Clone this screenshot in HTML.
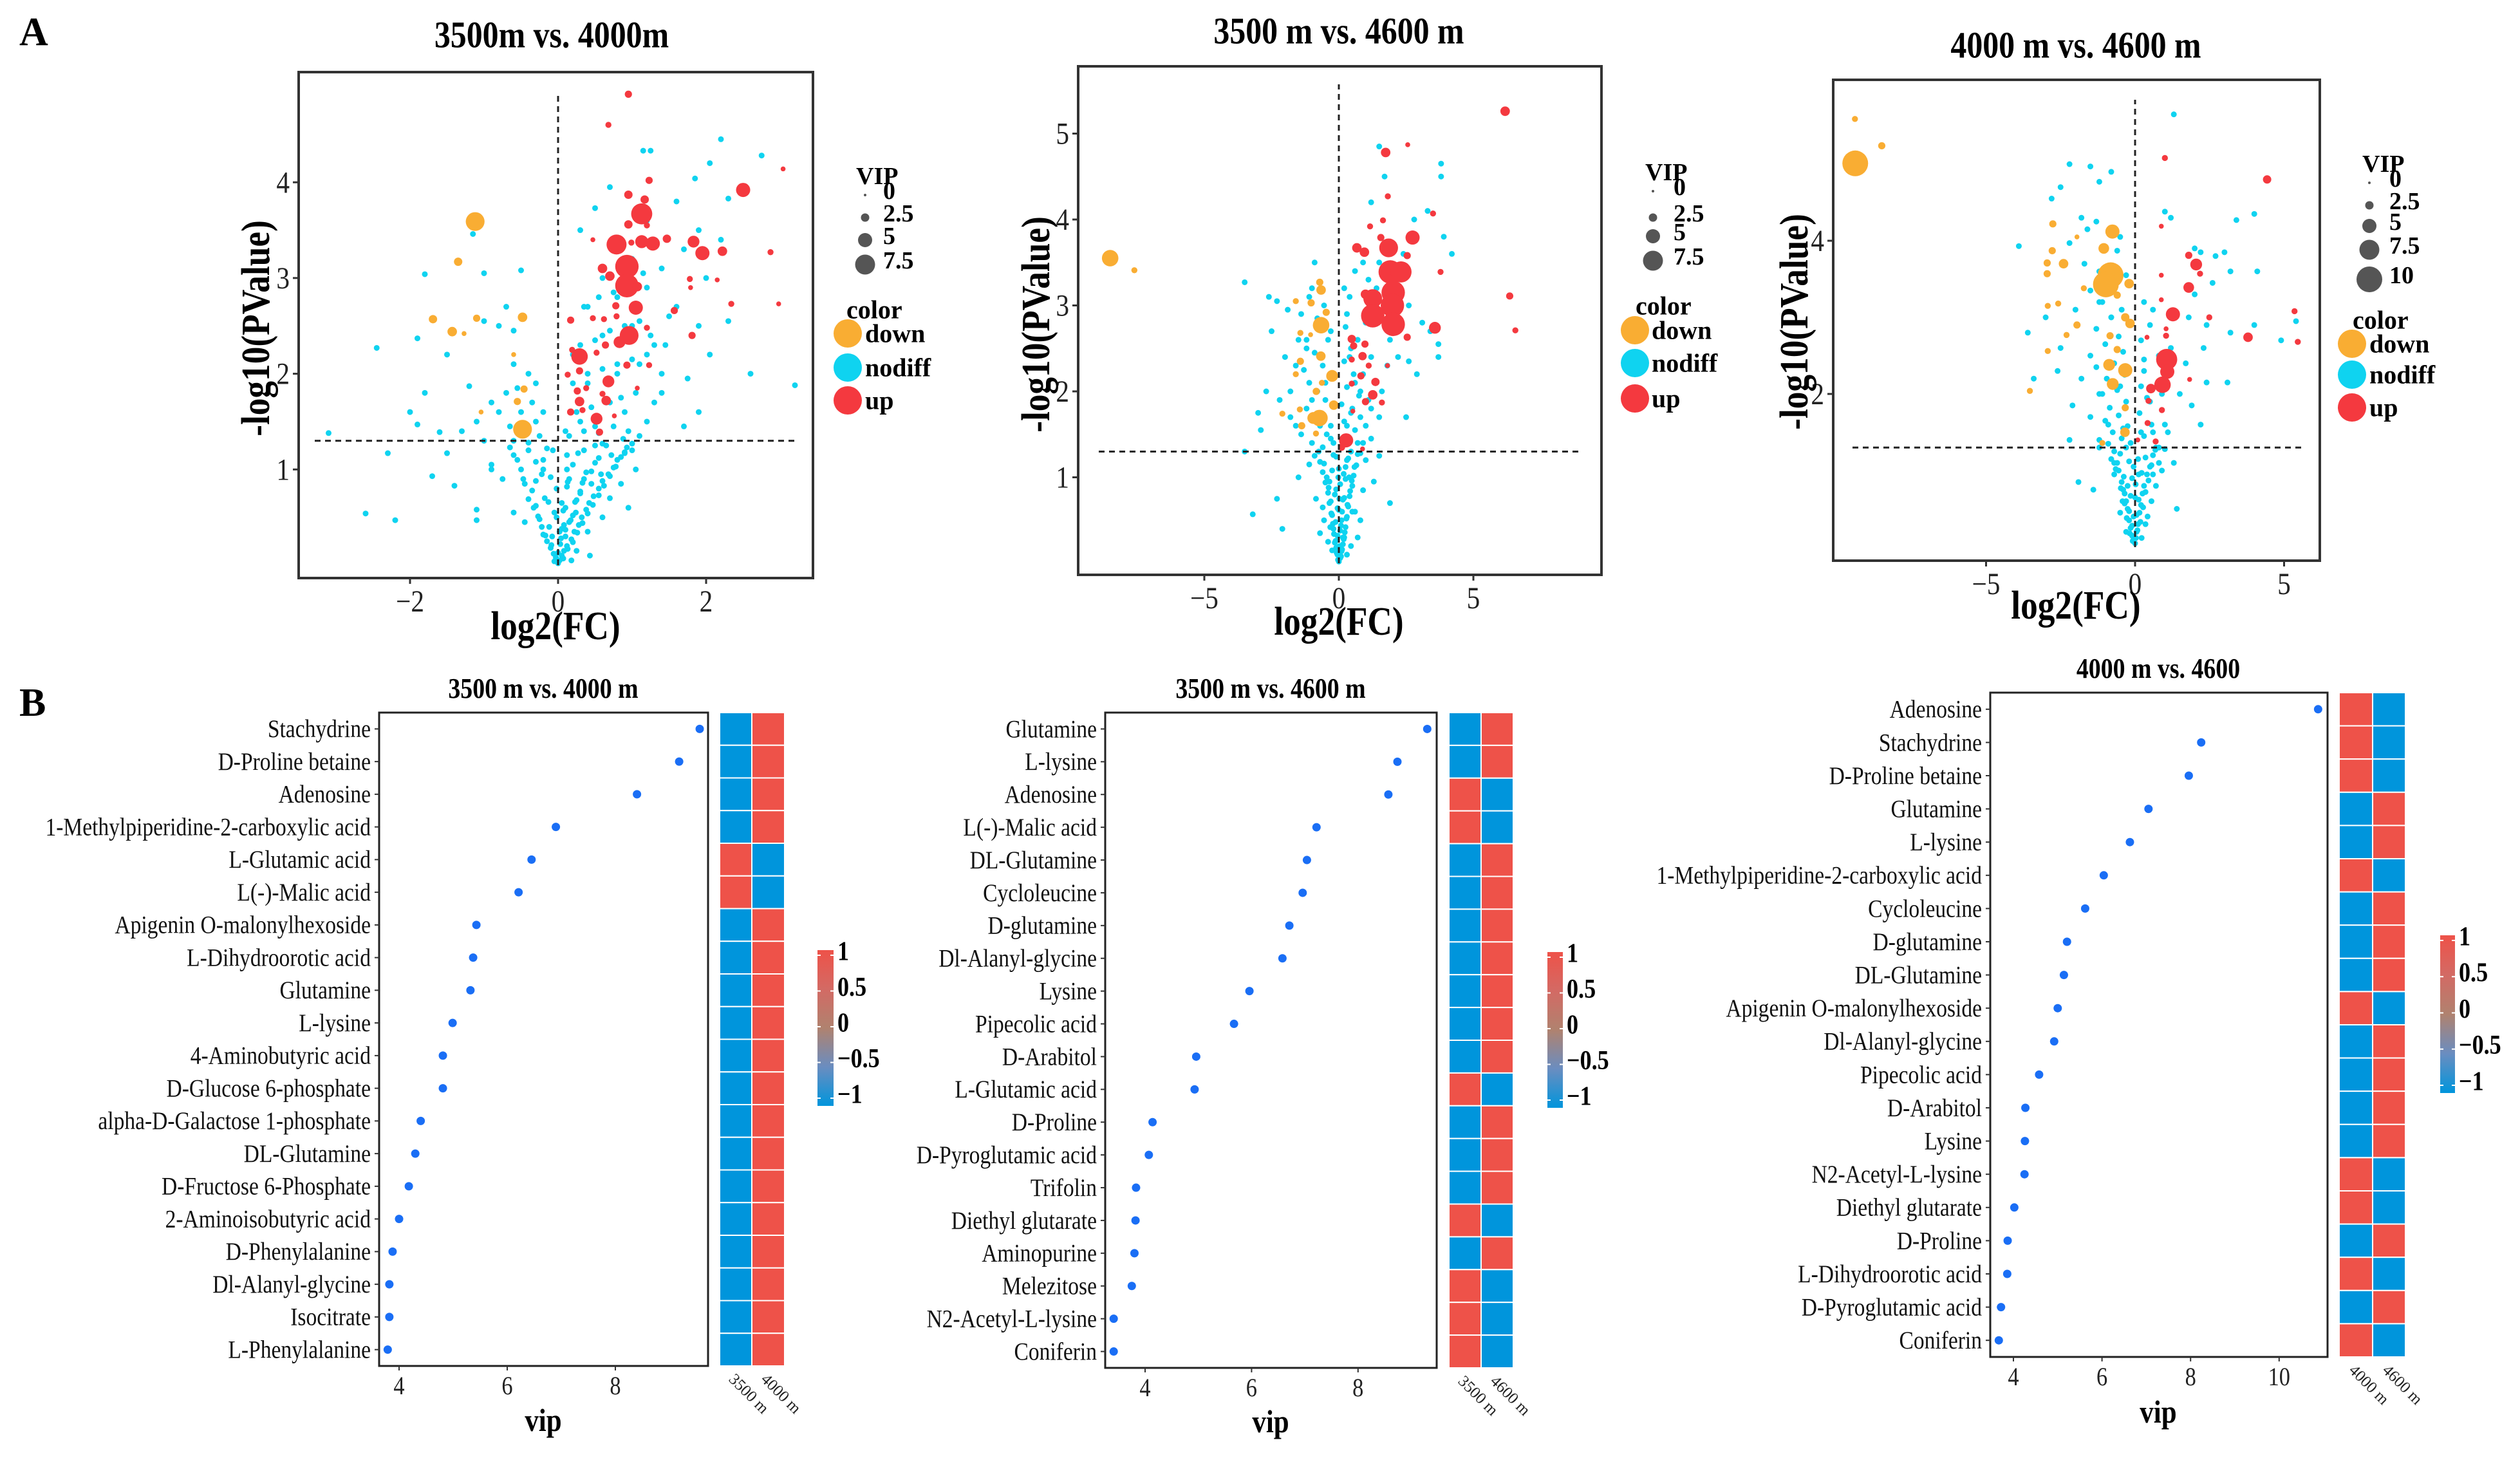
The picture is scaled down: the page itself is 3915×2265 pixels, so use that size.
<!DOCTYPE html>
<html><head><meta charset="utf-8">
<style>
html,body{margin:0;padding:0;background:#fff;}
svg{display:block;}
text{font-family:"Liberation Serif",serif;}
</style></head>
<body>
<svg id="fig" width="3915" height="2265" viewBox="0 0 3915 2265" xmlns="http://www.w3.org/2000/svg">
<rect x="0" y="0" width="3915" height="2265" fill="#fff"/>
<text x="30" y="70" font-family="Liberation Sans, sans-serif" font-weight="bold" font-size="62">A</text>
<text x="30" y="1112" font-family="Liberation Sans, sans-serif" font-weight="bold" font-size="62">B</text>
</svg>
<script>
// ===== Volcano A1 data (3500m vs 4000m) =====
const a1DownX=[-1.12,-1.35,-1.69,-1.1,-1.43,-1.27,-0.48,-0.6,-0.46,-0.55,-1.04,-0.48];
const a1DownY=[3.59,3.17,2.57,2.58,2.44,2.42,2.59,2.2,1.84,1.71,1.6,1.42];
const a1DownV=[7,2.5,2.5,2,3,1,3,1,2,2,1,7];
const a1UpX=[0.95,0.68,3.04,2.5,1.23,0.95,1.17,1.13,0.95,1.2,0.79,1.13,1.28,1.47,0.47,0.99,1.83,1.95,2.22,2.87,0.93,0.93,1.07,0.6,0.7,1.78,2.15,1.79,2.34,2.98,1.05,0.78,1.57,0.17,0.47,0.62,0.79,0.96,0.83,0.64,1.2,1.81,0.29,0.19,0.52,0.93,1.23,0.29,0.13,0.68,0.26,0.38,1.07,0.6,0.29,0.65,0.17,0.33,0.52,0.76,0.56];
const a1UpY=[4.92,4.6,4.14,3.92,4.02,3.87,3.82,3.67,3.56,3.55,3.35,3.38,3.36,3.41,3.4,3.37,3.38,3.26,3.28,3.27,3.12,2.92,2.91,3.1,3.02,2.99,2.98,2.9,2.73,2.73,2.69,2.71,2.66,2.56,2.58,2.57,2.6,2.4,2.33,2.3,2.48,2.4,2.18,2.25,2.22,2.09,2.09,2.03,1.99,1.92,1.82,1.85,1.85,1.79,1.71,1.72,1.6,1.62,1.53,1.56,1.39];
const a1UpV=[2,1.5,1,5,2,2.5,2.5,8,2.5,1.5,7.5,4.5,5,2.5,1,1.5,4,5,3,1.5,9,9,3,3,3,1.5,1,1,1.5,1,5,2,2,2,1.5,1.5,1.5,7,4,2,1.5,2,6,1.5,1.5,2,1.5,2,1.5,4,2,1.5,1,1.5,3,3,2,1.5,4,1,2];
const a1NdX=[0,0.02,-0.03,0.05,-0.06,0.08,-0.1,0.12,0.03,-0.15,0.18,0.1,-0.2,0.22,0.05,-0.12,0.28,0.15,-0.25,0.32,0.2,-0.05,0.38,0.1,-0.3,0.42,0.25,-0.18,0.48,0.3,-0.35,0.55,0.12,-0.45,0.6,0.35,-0.1,0.68,0.45,-0.5,0.75,0.2,-0.3,0.8,0.55,-0.6,0.9,0.35,-0.15,0.65,1.0,-0.4,0.05,0.15,-0.22,0.4,0.25,-0.08,0.6,0.7,-0.6,0.85,-0.75,0.95,-0.9,1.05,0.5,0.12,-0.45,0.18,
0.1,0.3,0.5,0.7,0.9,1.2,1.4,0.4,0.8,1.1,0.2,0.6,1.0,1.3,1.5,0.4,0.8,1.2,1.6,1.9,0.6,1.0,1.4,1.7,2.0,0.3,1.2,1.6,1.9,2.2,1.15,1.25,1.85,2.05,2.2,2.75,2.3,0.7,0.5,2.3,2.05,1.75,1.9,3.2,1.7,2.6,
-0.3,-0.5,-0.7,-0.4,-0.6,-0.9,-1.1,-1.3,-1.6,-1.9,-2.0,-1.8,-2.45,-3.1,-2.3,-2.6,-2.2,-1.8,-1.0,-1.15,-0.5,-1.5,-1.7,-1.4,-1.1,-1.1,-0.9,-1.2,-0.8,-0.7,-0.6,-1.9,-1.5,-1.0,-0.3,-0.2,0.9];
const a1NdY=[0.02,0.05,0.08,0.1,0.12,0.15,0.18,0.2,0.22,0.25,0.27,0.3,0.32,0.35,0.38,0.4,0.42,0.45,0.48,0.5,0.52,0.55,0.58,0.6,0.62,0.65,0.68,0.7,0.72,0.75,0.78,0.8,0.82,0.85,0.88,0.9,0.92,0.95,0.98,1.0,1.02,1.05,1.08,1.1,1.12,1.15,1.18,1.2,1.22,1.25,1.27,1.28,0.65,0.9,0.95,0.35,0.15,0.3,0.5,0.7,0.55,0.85,0.9,0.6,1.05,1.0,1.25,1.15,0.45,0.05,
1.4,1.5,1.45,1.7,1.6,1.5,1.8,1.9,2.0,2.1,2.2,2.4,2.5,2.3,2.6,2.7,2.8,2.9,2.7,2.5,3.0,3.2,3.1,3.3,3.0,3.5,3.6,3.8,3.5,3.4,4.33,4.33,4.04,4.2,4.45,4.28,3.83,3.95,3.73,2.55,2.2,1.95,1.6,1.88,1.45,2.0,
1.5,1.6,1.8,2.0,2.1,1.7,1.5,1.4,1.39,1.47,1.6,1.8,2.27,1.38,1.17,0.54,0.47,3.04,3.05,3.46,3.08,1.17,0.93,0.83,0.58,0.47,1.0,1.87,2.5,2.7,2.45,2.37,2.2,2.55,1.9,1.6,1.17];
const a1NdPairs=[[-0.05,0.04],[0.07,0.07],[0,0.13],[0.13,0.17],[-0.09,0.21],[0.2,0.24],[0.04,0.28],[-0.17,0.31],[0.26,0.34],[0.1,0.37],[-0.22,0.4],[0.33,0.44],[0.17,0.47],[-0.27,0.51],[0.4,0.54],[0.07,0.57],[-0.33,0.6],[0.47,0.63],[0.23,0.66],[-0.4,0.69],[0.55,0.73],[0.3,0.77],[-0.02,0.8],[0.62,0.83],[0.13,0.87],[-0.47,0.9],[0.7,0.93],[0.38,0.97],[-0.2,1.0],[0.78,1.03],[0.5,1.07],[-0.55,1.1],[0.85,1.13],[0.27,1.17],[-0.07,1.2],[0.93,1.23],[0.6,1.27],[-0.65,1.23],[1.0,1.2],[0.43,0.1],[0.15,1.35],[0.35,1.4],[0.55,1.38],[0.75,1.45],[0.95,1.4],[0.25,1.6],[0.45,1.65],[0.65,1.7],[0.85,1.75],[1.05,1.8],[0.2,1.9],[0.4,2.0],[0.6,2.05],[0.8,2.1],[1.0,2.15],[1.2,2.2],[0.3,2.3],[0.5,2.35],[0.7,2.45],[0.9,2.5],[1.1,2.55],[0.35,2.7],[0.55,2.8],[0.75,2.85],[0.95,2.95],[1.15,3.05],[-0.25,1.35],[-0.45,1.4],[-0.65,1.45],[-0.35,1.7],[-0.55,1.85],[-0.8,1.6],[-1.0,1.3],[-0.2,1.1],[-0.4,1.2],[-0.6,1.3],[0.08,0.42],[-0.13,0.66],[0.33,0.86],[0.58,0.95],[0.12,1.0],[-0.3,0.88],[0.72,1.15],[0.88,1.32],[0.24,0.55],[0.02,0.35],[-0.02,0.5],[0.45,0.85],[1.3,1.7],[1.4,2.0],[1.25,2.4],[1.45,2.3],[1.1,1.35]];

// ===== Volcano A2 data (3500 m vs 4600 m) =====
const a2DownX=[-8.5,-7.6,-0.71,-0.66,-0.47,-1.03,-1.6,-0.66,-1.43,-1.05,-0.67,-1.43,-1.6,-0.25,-0.63,-0.84,-0.19,-1.45,-0.72,-0.95,-2.1,-1.38,-0.85];
const a2DownY=[3.55,3.41,3.27,3.18,2.92,3.03,3.05,2.77,2.68,2.66,2.41,2.35,2.2,2.18,2.1,2.0,1.84,1.79,1.69,1.69,1.74,1.6,1.51];
const a2DownV=[6,1.5,2,3,2,2,1.5,6,1.5,1,3,2,1.5,4,1.5,2,3,1.5,6,4,1.5,2,1.5];
const a2UpX=[6.18,1.74,2.56,1.82,3.5,1.16,1.64,2.74,1.56,1.85,0.67,0.95,2.54,1.91,2.31,3.78,2.02,1.26,0.99,6.35,1.99,2.02,1.26,3.57,6.56,2.54,0.48,0.97,0.55,0.88,0.48,1.11,1.81,0.82,1.36,0.48,1.26,0.99,1.6,0.27,0.1,0.52,0.88];
const a2UpY=[5.26,4.78,4.87,4.27,4.07,3.92,3.99,3.79,3.79,3.67,3.67,3.62,3.58,3.39,3.39,3.39,3.15,3.08,3.13,3.11,3.0,2.78,2.88,2.74,2.71,2.63,2.61,2.55,2.53,2.41,2.37,2.3,2.3,2.18,2.11,2.09,1.96,1.88,1.87,1.43,1.35,1.77,1.33];
const a2UpV=[3,3,1,1.5,1.5,1.5,1.5,5,2,7,3,3,2,9,8,1.5,9,7,3,2,9,9,9,4,1.5,2,2.5,2,2,2.5,1.5,1.5,1,2,2.5,1.5,3,2,1.5,5,2,1,1];
const a2NdX=[0,0.05,-0.05,0.1,-0.1,0.15,-0.12,0.2,-0.18,0.05,0.25,-0.22,0.1,0.3,-0.28,0,0.35,-0.35,0.15,0.4,-0.4,-0.1,0.5,-0.5,0.25,0.55,-0.6,0,0.65,-0.7,0.35,-0.2,0.8,-0.9,1.0,-1.1,0.6,-0.55,0.7,-0.7,-3.2,-2.1,-2.3,1.9,1.3,-1.5,1.5,-0.25,0.3,-0.4,0.45,0.8,-0.85,0.9,
-3.5,-2.6,-2.3,-1.9,-2.5,-1.5,-2.0,-1.6,-1.2,-2.7,-2.2,-1.8,-3.0,-2.9,-1.0,-0.5,-0.4,-1.0,-0.9,-0.3,-0.3,-0.6,-3.5,0.3,0.5,0.6,0.4,0.8,1.0,1.2,1.5,1.6,1.8,2.2,2.6,2.9,3.7,3.7,3.1,2.6,1.8,1.5,2.4,2.8,3.3,3.8,3.8,3.9,4.2,1.5,1.7,1.2,1.4,1.3,0.3,1.9,2.5,3.4,0.7,-1.4,0.2];
const a2NdY=[0.02,0.06,0.1,0.14,0.18,0.22,0.26,0.3,0.34,0.38,0.42,0.46,0.5,0.54,0.58,0.62,0.66,0.7,0.74,0.78,0.82,0.86,0.9,0.94,0.98,1.02,1.06,1.1,1.14,1.18,1.22,1.26,1.28,1.25,1.2,1.15,0.6,0.5,0.3,0.35,0.57,0.4,0.75,0.7,0.95,1.0,1.25,0.15,0.1,0.25,0.2,0.5,0.75,0.85,
3.27,3.1,3.05,2.95,2.7,2.6,2.4,2.3,2.5,2.0,1.9,1.7,1.75,1.55,1.9,2.1,2.6,3.2,3.5,1.6,1.45,1.35,1.3,1.6,1.8,2.1,2.4,2.0,1.6,1.8,1.7,2.0,2.3,2.4,2.35,2.2,2.55,2.4,2.8,3.0,3.3,3.5,3.6,4.0,4.1,4.65,4.5,3.8,3.6,4.85,4.5,4.2,3.2,2.9,2.9,2.6,1.7,2.7,1.4,1.5,3.2];
const a2NdPairs=[[-0.03,0.04],[0.08,0.08],[-0.08,0.12],[0.12,0.16],[0.02,0.2],[-0.15,0.24],[0.18,0.28],[-0.05,0.32],[0.22,0.36],[-0.2,0.4],[0.08,0.44],[-0.12,0.48],[0.28,0.52],[-0.25,0.56],[0.12,0.6],[-0.05,0.64],[0.32,0.68],[-0.3,0.72],[0.2,0.76],[-0.15,0.8],[0.42,0.84],[-0.38,0.88],[0.05,0.92],[0.48,0.96],[-0.45,1.0],[0.18,1.04],[-0.25,1.08],[0.58,1.12],[-0.55,1.16],[0.3,1.2],[-0.1,1.24],[0.7,1.27],[-0.75,1.3],[0.45,1.3],[0.1,1.35],[-0.2,1.4],[0.35,1.45],[-0.45,1.5],[0.6,1.55],[-0.7,1.6],[0.2,1.65],[-0.95,1.7],[0.45,1.75],[-1.2,1.8],[0.1,1.85],[-0.5,1.9],[0.75,1.95],[-0.8,2.0],[0.3,2.05],[-1.1,2.1],[-0.3,2.15],[0.55,2.2],[-1.3,2.25],[-0.6,2.3],[0.2,2.35],[-0.9,2.45],[0.45,2.5],[-1.2,2.6],[-0.3,2.7],[0.25,2.75],[-0.8,2.85],[-1.4,2.9],[-0.55,3.0],[0.4,3.1],[-1.1,3.1],[0.6,3.4],[0.9,3.5],[1.1,3.3],[1.0,2.8],[0.7,2.6],[1.2,2.4],[0.9,2.2],[1.1,1.9],[0.8,1.7],[0.9,1.4],[1.2,1.45],[-1.0,1.4],[-1.6,1.6],[-1.8,2.0],[-0.35,0.95],[0.38,1.0],[0.15,0.3],[-0.32,0.42],[0.5,0.6],[-0.6,0.65],[0.02,0.75],[-0.02,1.0],[0.25,1.12]];

// ===== Volcano A3 data (4000 m vs 4600 m) =====
const a3DownX=[-9.39,-9.4,-8.5,-0.76,-2.76,-1.95,-1.05,-2.78,-2.95,-2.4,-2.95,-0.82,-0.98,-0.2,-1.72,-2.93,-2.58,-0.6,-0.33,-0.17,-1.95,-2.3,-0.84,-2.93,-0.6,-0.87,-0.33,-0.75,-3.53,-0.33,-0.34,-1.1];
const a3DownY=[5.01,5.59,5.24,4.12,4.22,4.05,3.9,3.87,3.71,3.7,3.57,3.55,3.43,3.44,3.38,3.15,3.18,3.29,3.0,2.92,2.9,2.77,2.76,2.56,2.58,2.38,2.31,2.13,2.04,1.82,1.5,1.36];
const a3DownV=[10,1.5,2,5,2,1,3.5,2,2,3,2,10,10,3,1.5,1.5,1.5,2,2.5,3,2,1.5,2,1.5,2,4,5,4,1.5,2,3,1.5];
const a3UpX=[1.0,4.43,0.88,1.8,2.05,2.18,0.88,1.8,0.88,1.27,2.49,5.35,5.46,3.79,1.04,0.4,1.04,1.06,1.08,0.92,0.53,1.83,0.45,0.9,0.42,0.09,0.69];
const a3UpY=[5.08,4.8,4.19,3.81,3.69,3.57,3.55,3.39,3.23,3.04,3.0,3.08,2.68,2.74,2.85,2.74,2.76,2.45,2.29,2.12,2.07,2.19,1.91,1.79,1.62,1.4,1.38];
const a3UpV=[1.5,2.5,1,2,4,1.5,1,3.5,1,5,1.5,1.5,1.5,3,1,1,1.5,8,5,6,3,1,1.5,1.5,1.5,1,1.5];
const a3NdX=[0,-0.05,-0.1,0.05,-0.15,0.1,-0.2,-0.05,0.15,-0.25,0.2,-0.3,0,0.25,-0.4,0.3,-0.45,-0.1,0.4,-0.55,0.5,-0.6,0.1,0.6,-0.7,0.8,-0.9,-0.3,1.0,0.55,-0.5,0.7,-0.7,0.9,-0.8,1.4,1.3,-1.9,-1.4,-0.3,0.35,-0.35,
-2.2,-1.5,-1.2,-0.8,-1.3,-2.8,-1.8,-2.5,-3.9,-2.2,-1.6,-0.5,-0.6,-1.7,-1.5,-3.0,-2.0,-1.2,-0.8,-3.6,-2.5,-1.5,-0.9,-3.4,-2.6,-1.8,-1.2,-0.5,-2.1,-1.5,-0.9,-0.4,-2.2,-1.2,1.3,1.0,1.2,2.0,2.2,3.0,3.4,4.0,4.1,2.7,3.2,2.6,2.0,1.8,2.4,3.2,4.0,4.9,5.4,2.3,1.7,2.4,3.1,1.5,1.9,2.2,0.8,0.5,0.5,0.3,0.6,0.2,1.1,0.6];
const a3NdY=[0.05,0.1,0.15,0.2,0.25,0.3,0.35,0.4,0.45,0.5,0.55,0.6,0.65,0.7,0.75,0.8,0.85,0.9,0.95,1.0,1.05,1.1,1.15,1.2,1.25,1.3,1.35,1.3,1.28,0.6,0.45,0.8,0.95,1.0,1.15,0.5,1.1,0.85,0.75,0.2,0.3,0.7,
5.0,4.97,4.77,4.9,4.25,4.55,4.3,4.7,3.93,3.97,4.15,4.05,3.87,3.7,3.35,3.0,3.1,3.2,3.0,2.8,2.6,2.5,2.4,2.2,2.3,2.2,2.0,2.1,1.85,1.7,1.6,1.55,1.4,1.4,5.65,4.38,4.3,3.9,3.85,3.85,4.27,4.35,3.6,3.8,3.6,3.45,3.3,3.0,2.9,2.8,2.9,2.7,2.95,2.6,2.4,2.15,2.15,2.0,1.85,1.6,2.5,2.9,1.9,2.3,1.5,1.5,1.5,3.1];
const a3NdPairs=[[-0.08,0.08],[0.03,0.12],[-0.18,0.18],[0.08,0.22],[-0.1,0.28],[0.18,0.33],[-0.28,0.38],[0.05,0.42],[-0.2,0.47],[0.27,0.52],[-0.35,0.57],[0.12,0.62],[-0.15,0.67],[0.35,0.72],[-0.48,0.77],[0.02,0.82],[0.45,0.87],[-0.38,0.92],[0.22,0.97],[-0.65,1.02],[0.55,1.07],[-0.2,1.12],[0.35,1.17],[-0.5,1.22],[0.68,1.27],[-0.15,1.36],[-0.45,1.42],[0.3,1.45],[-0.75,1.5],[-0.25,1.58],[0.55,1.6],[-1.0,1.65],[-0.55,1.72],[0.15,1.75],[-0.85,1.82],[-0.3,1.9],[0.4,1.95],[-1.1,2.0],[-0.6,2.05],[0.2,2.1],[-0.95,2.2],[-0.35,2.25],[-1.3,2.35],[-0.7,2.4],[0.3,2.45],[-0.4,2.55],[-1.0,2.65],[-0.55,2.75],[-1.3,2.85],[-0.8,3.0],[-0.45,3.1],[-1.1,3.2],[-0.6,3.3],[-0.9,3.45],[-0.3,3.55],[-1.2,3.6],[0.2,2.7],[0.3,3.2],[0.9,2.0],[1.2,2.6],[1.0,1.6],[0.7,1.3],[-1.2,1.3],[0.42,0.4],[-0.42,0.6],[0.6,0.95],[-0.7,1.1],[0.12,0.95],[-0.05,1.05],[0.22,0.12],[-0.25,0.8],[0.8,1.1]];

// ===== VIP dot plot B1 data =====
const b1Names=["Stachydrine","D-Proline betaine","Adenosine","1-Methylpiperidine-2-carboxylic acid","L-Glutamic acid","L(-)-Malic acid","Apigenin O-malonylhexoside","L-Dihydroorotic acid","Glutamine","L-lysine","4-Aminobutyric acid","D-Glucose 6-phosphate","alpha-D-Galactose 1-phosphate","DL-Glutamine","D-Fructose 6-Phosphate","2-Aminoisobutyric acid","D-Phenylalanine","Dl-Alanyl-glycine","Isocitrate","L-Phenylalanine"];
const b1Vip=[9.56,9.18,8.4,6.9,6.45,6.21,5.43,5.37,5.32,4.99,4.81,4.81,4.4,4.3,4.18,4.0,3.88,3.82,3.82,3.79];
const b1Heat=[-1,-1,-1,-1,1,1,-1,-1,-1,-1,-1,-1,-1,-1,-1,-1,-1,-1,-1,-1];
const b1Groups=["3500 m","4000 m"];
const b1Ticks=[4,6,8];

// ===== VIP dot plot B2 data =====
const b2Names=["Glutamine","L-lysine","Adenosine","L(-)-Malic acid","DL-Glutamine","Cycloleucine","D-glutamine","Dl-Alanyl-glycine","Lysine","Pipecolic acid","D-Arabitol","L-Glutamic acid","D-Proline","D-Pyroglutamic acid","Trifolin","Diethyl glutarate","Aminopurine","Melezitose","N2-Acetyl-L-lysine","Coniferin"];
const b2Vip=[9.3,8.74,8.57,7.22,7.04,6.96,6.71,6.58,5.96,5.67,4.96,4.93,4.14,4.07,3.83,3.82,3.8,3.75,3.41,3.41];
const b2Heat=[-1,-1,1,1,-1,-1,-1,-1,-1,-1,-1,1,-1,-1,-1,1,-1,1,1,1];
const b2Groups=["3500 m","4600 m"];
const b2Ticks=[4,6,8];

// ===== VIP dot plot B3 data =====
const b3Names=["Adenosine","Stachydrine","D-Proline betaine","Glutamine","L-lysine","1-Methylpiperidine-2-carboxylic acid","Cycloleucine","D-glutamine","DL-Glutamine","Apigenin O-malonylhexoside","Dl-Alanyl-glycine","Pipecolic acid","D-Arabitol","Lysine","N2-Acetyl-L-lysine","Diethyl glutarate","D-Proline","L-Dihydroorotic acid","D-Pyroglutamic acid","Coniferin"];
const b3Vip=[10.88,8.24,7.96,7.05,6.63,6.04,5.62,5.21,5.14,5.0,4.92,4.58,4.27,4.26,4.25,4.02,3.87,3.86,3.72,3.67];
const b3Heat=[1,1,1,-1,-1,1,-1,-1,-1,1,-1,-1,-1,-1,1,1,-1,1,-1,1];
const b3Groups=["4000 m","4600 m"];
const b3Ticks=[4,6,8,10];

const colorbarTicks=[1,0.5,0,-0.5,-1];
const colorbarLabels=["1","0.5","0","\u22120.5","\u22121"];

const NS="http://www.w3.org/2000/svg";
const svg=document.getElementById('fig');
function mk(tag,attrs,parent){const e=document.createElementNS(NS,tag);for(const k in attrs)e.setAttribute(k,attrs[k]);(parent||svg).appendChild(e);return e;}
function txt(s,attrs,parent){const e=mk('text',attrs,parent);e.textContent=s;return e;}
const C_DOWN="#f9ad33",C_ND="#0fd3f0",C_UP="#f4393f";
function rOf(v){return 2+1.8*v;}
const SX=0.86; // condensed text look

function volcano(id,L,downX,downY,downV,upX,upY,upV,ndX,ndY,ndPairs,xTicks,yTicks,vipLegend,title){
  const g=mk('g',{});
  
  
  const sx=v=>L.x0+v*L.kx, sy=v=>L.y0-v*L.ky;
  const t=txt(title,{x:L.tx/SX,y:L.ty,transform:`scale(${SX},1)`,'text-anchor':'middle','dominant-baseline':'central','font-size':58,'font-weight':'bold'},g);
  
  
  const pts=mk('g',{},g);
  
  
  for(let i=0;i<ndX.length;i++){const c=mk('circle',{cx:sx(ndX[i]),cy:sy(ndY[i]),r:4.5,fill:C_ND},pts);
    
    }
  for(let i=0;i<ndPairs.length;i++){const c=mk('circle',{cx:sx(ndPairs[i][0]),cy:sy(ndPairs[i][1]),r:4.5,fill:C_ND},pts);
    
    }
  for(let i=0;i<downX.length;i++){const c=mk('circle',{cx:sx(downX[i]),cy:sy(downY[i]),r:rOf(downV[i]),fill:C_DOWN},pts);
    
    }
  for(let i=0;i<upX.length;i++){const c=mk('circle',{cx:sx(upX[i]),cy:sy(upY[i]),r:rOf(upV[i]),fill:C_UP},pts);
    
    }
  const hl=mk('line',{x1:L.hx1,x2:L.hx2,y1:sy(1.3),y2:sy(1.3),stroke:'#222','stroke-width':3,'stroke-dasharray':'9,7'},g);
  
  
  const vl=mk('line',{x1:sx(0),x2:sx(0),y1:sy(0),y2:L.vtop,stroke:'#222','stroke-width':3,'stroke-dasharray':'9,7'},g);
  
  
  const b=mk('rect',{x:L.bx,y:L.by,width:L.bw,height:L.bh,fill:'none',stroke:'#333','stroke-width':4},g);
  
  
  xTicks.forEach(v=>{mk('line',{x1:sx(v),x2:sx(v),y1:L.by+L.bh,y2:L.by+L.bh+9,stroke:'#333','stroke-width':3},g);
    const e=txt(v<0?'\u2212'+(-v):String(v),{x:sx(v)/SX,y:L.by+L.bh+52,transform:`scale(${SX},1)`,'text-anchor':'middle','font-size':48,fill:'#222'},g);
    
    });
  yTicks.forEach(v=>{mk('line',{x1:L.bx,x2:L.bx-9,y1:sy(v),y2:sy(v),stroke:'#333','stroke-width':3},g);
    const e=txt(String(v),{x:(L.bx-14)/SX,y:sy(v),transform:`scale(${SX},1)`,'text-anchor':'end','dominant-baseline':'central','font-size':48,fill:'#222'},g);
    
    });
  const xt=txt('log2(FC)',{x:L.xlx/SX,y:L.xly,transform:`scale(${SX},1)`,'text-anchor':'middle','dominant-baseline':'central','font-size':62,'font-weight':'bold'},g);
  
  
  const yt=txt('-log10(PValue)',{x:0,y:0,transform:`translate(${L.ylx},${L.yly}) rotate(-90) scale(${SX},1)`,'text-anchor':'middle','dominant-baseline':'central','font-size':62,'font-weight':'bold'},g);
  
  
  const lg=mk('g',{},g);
  
  
  txt('VIP',{x:L.vipX,y:L.vipY,'dominant-baseline':'central','font-size':38,'font-weight':'bold'},lg);
  vipLegend.forEach((v,i)=>{
    const c=mk('circle',{cx:L.vcX,cy:L.vys[i],r:rOf(v),fill:'#555'},lg);
    
    
    txt(String(v),{x:L.vlX,y:L.vys[i]-6,'dominant-baseline':'central','font-size':38,'font-weight':'bold'},lg);
  });
  txt('color',{x:L.colX,y:L.colY,'dominant-baseline':'central','font-size':40,'font-weight':'bold'},lg);
  [['down',C_DOWN],['nodiff',C_ND],['up',C_UP]].forEach((d,i)=>{
    const c=mk('circle',{cx:L.ccX,cy:L.cys[i],r:22,fill:d[1]},lg);
    
    
    txt(d[0],{x:L.clX,y:L.cys[i],'dominant-baseline':'central','font-size':40,'font-weight':'bold'},lg);
  });
}

volcano('volcano-3500-vs-4000',{x0:867,kx:115,y0:878,ky:148.7,bx:464,by:112,bw:799,bh:786,hx1:489,hx2:1241,vtop:147,tx:857,ty:54,xlx:863,xly:972,ylx:397,yly:510,
  vipX:1330,vipY:274,vcX:1344,vlX:1372,vys:[303,338,373,411],colX:1315,colY:481,ccX:1317,clX:1344,cys:[518,571,622]},
  a1DownX,a1DownY,a1DownV,a1UpX,a1UpY,a1UpV,a1NdX,a1NdY,a1NdPairs,[-2,0,2],[1,2,3,4],[0,2.5,5,7.5],'3500m vs. 4000m');
volcano('volcano-3500-vs-4600',{x0:2080,kx:41.8,y0:875,ky:133.5,bx:1675,by:103,bw:813,bh:790,hx1:1707,hx2:2456,vtop:131,tx:2080,ty:48,xlx:2080,xly:965,ylx:1609,yly:504,
  vipX:2556,vipY:268,vcX:2568,vlX:2600,vys:[297,338,367,405],colX:2541,colY:475,ccX:2540,clX:2566,cys:[513,564,619]},
  a2DownX,a2DownY,a2DownV,a2UpX,a2UpY,a2UpV,a2NdX,a2NdY,a2NdPairs,[-5,0,5],[1,2,3,4,5],[0,2.5,5,7.5],'3500 m vs. 4600 m');
volcano('volcano-4000-vs-4600',{x0:3317,kx:46.3,y0:850,ky:119,bx:2848,by:124,bw:756,bh:747,hx1:2878,hx2:3575,vtop:155,tx:3225,ty:70,xlx:3225,xly:940,ylx:2787,yly:500,
  vipX:3670,vipY:255,vcX:3681,vlX:3712,vys:[284,319,351,388,434],colX:3655,colY:497,ccX:3654,clX:3681,cys:[534,582,633]},
  a3DownX,a3DownY,a3DownV,a3UpX,a3UpY,a3UpV,a3NdX,a3NdY,a3NdPairs,[-5,0,5],[2,4],[0,2.5,5,7.5,10],'4000 m vs. 4600 m');

const RED="#ee5249",BLUE="#0095dc";
function vipPlot(id,L,names,vips,heat,groups,ticks,title){
  const g=mk('g',{});
  
  
  const sx=v=>L.x4+(v-4)*L.k;
  const n=names.length, rowH=(L.by2-L.by)/n;
  const ry=i=>L.by+rowH*(i+0.5);
  const t=txt(title,{x:L.tx/SX,y:L.ty,transform:`scale(${SX},1)`,'text-anchor':'middle','dominant-baseline':'central','font-size':44,'font-weight':'bold'},g);
  
  
  const b=mk('rect',{x:L.bx,y:L.by,width:L.bx2-L.bx,height:L.by2-L.by,fill:'none',stroke:'#222','stroke-width':3},g);
  
  
  names.forEach((nm,i)=>{
    mk('line',{x1:L.bx,x2:L.bx-7,y1:ry(i),y2:ry(i),stroke:'#333','stroke-width':2},g);
    const e=txt(nm,{x:(L.bx-13)/SX,y:ry(i),transform:`scale(${SX},1)`,'text-anchor':'end','dominant-baseline':'central','font-size':39,fill:'#111'},g);
    
    
    const d=mk('circle',{cx:sx(vips[i]),cy:ry(i),r:6.5,fill:'#1a6ef5'},g);
    
    
    const v1=heat[i], c1=v1>0?RED:BLUE, c2=v1>0?BLUE:RED;
    const h1=mk('rect',{x:L.hx0,y:L.by+rowH*i,width:L.hx1-L.hx0,height:rowH,fill:c1,stroke:'#fff','stroke-width':2},g);
    
    
    const h2=mk('rect',{x:L.hx1,y:L.by+rowH*i,width:L.hx2-L.hx1,height:rowH,fill:c2,stroke:'#fff','stroke-width':2},g);
    
    
  });
  ticks.forEach(v=>{mk('line',{x1:sx(v),x2:sx(v),y1:L.by2,y2:L.by2+7,stroke:'#333','stroke-width':2},g);
    const e=txt(String(v),{x:sx(v)/SX,y:L.by2+44,transform:`scale(${SX},1)`,'text-anchor':'middle','font-size':40,fill:'#222'},g);
    
    });
  const xt=txt('vip',{x:L.tx/SX,y:L.vy,transform:`scale(${SX},1)`,'text-anchor':'middle','dominant-baseline':'central','font-size':50,'font-weight':'bold'},g);
  
  
  [L.hx0,L.hx1].forEach((x,j)=>{
    const cx=x+(L.hx1-L.hx0)/2-12;
    const e=txt(groups[j],{x:0,y:0,transform:`translate(${cx},${L.by2+22}) rotate(45)`,'font-size':25,fill:'#222'},g);
    
    
  });
  const gid='cb'+id;
  const defs=mk('defs',{},g);
  const lgd=mk('linearGradient',{id:gid,x1:0,y1:0,x2:0,y2:1},defs);
  [['0','#ee5249'],['0.25','#d36a64'],['0.5','#b0826f'],['0.75','#6a8dc0'],['1','#0095dc']].forEach(s=>mk('stop',{offset:s[0],'stop-color':s[1]},lgd));
  const cb=mk('rect',{x:L.cx,y:L.cy,width:L.cw,height:L.ch,fill:`url(#${gid})`},g);
  
  
  colorbarTicks.forEach((v,i)=>{
    const y=L.cy+8+(1-v)/2*(L.ch-20);
    mk('line',{x1:L.cx,x2:L.cx+5,y1:y,y2:y,stroke:'#fff','stroke-width':2},g);
    mk('line',{x1:L.cx+L.cw-5,x2:L.cx+L.cw,y1:y,y2:y,stroke:'#fff','stroke-width':2},g);
    const e=txt(colorbarLabels[i],{x:(L.cx+L.cw+6)/SX,y:y-6,transform:`scale(${SX},1)`,'dominant-baseline':'central','font-size':42,'font-weight':'bold'},g);
    
    
  });
}
vipPlot('vip-3500-vs-4000',{bx:589,bx2:1100,by:1107,by2:2122,x4:620,k:84,hx0:1118,hx1:1168,hx2:1219,cx:1270,cy:1476,cw:25,ch:242,tx:844,ty:1069,vy:2207},b1Names,b1Vip,b1Heat,b1Groups,b1Ticks,'3500 m vs. 4000 m');
vipPlot('vip-3500-vs-4600',{bx:1717,bx2:2232,by:1107,by2:2125,x4:1779,k:82.7,hx0:2251,hx1:2301,hx2:2351,cx:2404,cy:1479,cw:24,ch:242,tx:1974,ty:1069,vy:2209},b2Names,b2Vip,b2Heat,b2Groups,b2Ticks,'3500 m vs. 4600 m');
vipPlot('vip-4000-vs-4600',{bx:3092,bx2:3616,by:1076,by2:2108,x4:3128,k:68.8,hx0:3634,hx1:3686,hx2:3737,cx:3791,cy:1453,cw:23,ch:245,tx:3353,ty:1038,vy:2194},b3Names,b3Vip,b3Heat,b3Groups,b3Ticks,'4000 m vs. 4600');
</script>
</body></html>
